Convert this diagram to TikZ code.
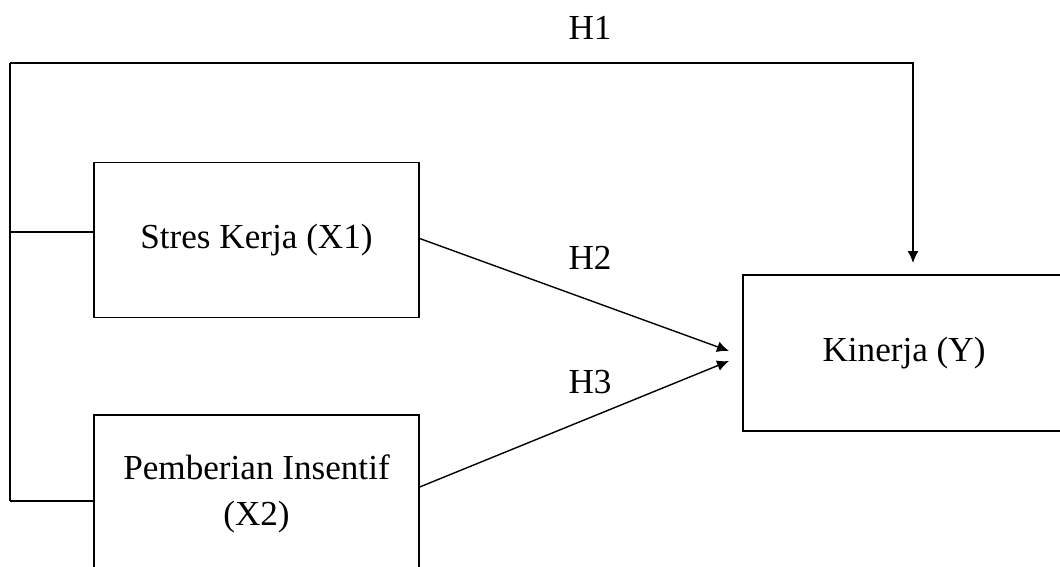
\documentclass[tikz,border=0pt]{standalone}
\usepackage{fontspec}
\setmainfont{Liberation Serif}
\usetikzlibrary{arrows.meta}

\begin{document}
\begin{tikzpicture}[x=0.02cm,y=-0.02cm,line width=0.8pt,
	varbox/.style={draw,rectangle,align=center,inner sep=0pt,font=\fontsize{20}{26}\selectfont},
	hlabel/.style={font=\fontsize{20}{24}\selectfont},
	arr/.style={-{Latex[length=0.24cm,width=0.22cm]}}]
	% Frame
	\clip (0,0) rectangle (1060,567);
	\useasboundingbox (0,0) rectangle (1060,567);
	% Variables
	\node[varbox,minimum width=6.5cm,minimum height=3.1cm] (x1) at (256.5,240) {Stres Kerja (X1)};
	\node[varbox,minimum width=6.5cm,minimum height=3.16cm] (x2) at (256.5,494) {Pemberian Insentif\\(X2)};
	\node[varbox,minimum width=6.44cm,minimum height=3.12cm] (y) at (904,353) {Kinerja (Y)};
	% Joints
	\coordinate (top) at (10,63);
	\coordinate (j1) at (10,232);
	\coordinate (bot) at (10,501);
	\coordinate (h1end) at (913,263);
	\coordinate (t2) at (729,351);
	\coordinate (t3) at (729,361);
	% Connectors
	\draw (top) -- (bot);
	\draw (j1) -- (j1 -| x1.west);
	\draw (bot) -- (bot -| x2.west);
	\draw[arr] (top) -| (h1end);
	\draw[arr] ([yshift=0.03cm]x1.east) -- (t2);
	\draw[arr] ([yshift=0.14cm]x2.east) -- (t3);
	% Labels
	\node[hlabel] (h1) at (590,28) {H1};
	\node[hlabel] (h2) at (590,258) {H2};
	\node[hlabel] (h3) at (590,382) {H3};
\end{tikzpicture}
\end{document}
